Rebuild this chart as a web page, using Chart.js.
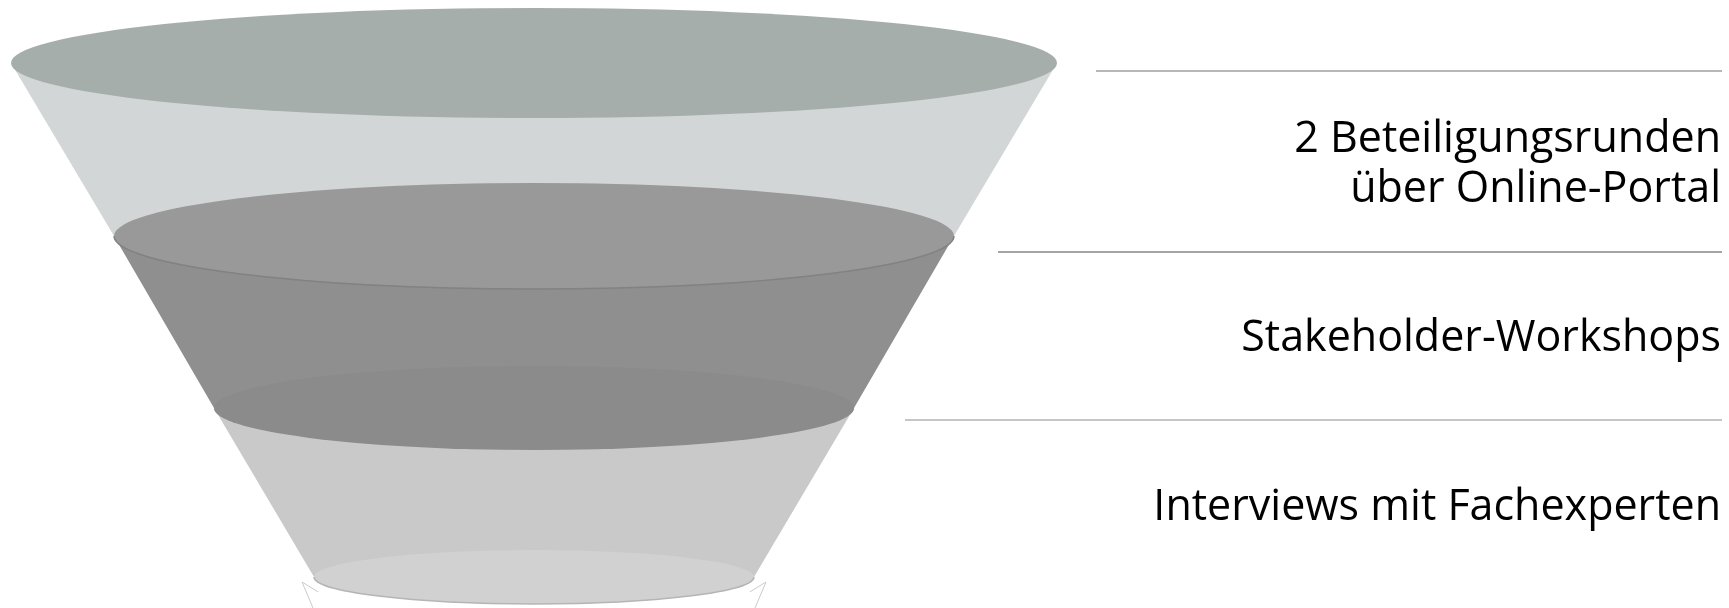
<!DOCTYPE html>
<html>
<head>
<meta charset="utf-8">
<script src="https://cdn.jsdelivr.net/npm/chart.js@4"></script>
<style>
    html, body { margin: 0; padding: 0; background: #ffffff; }
    #wrap { width: 1729px; height: 608px; }
</style>
</head>
<body>
<div id="wrap"><canvas id="funnel" width="1729" height="608"></canvas></div>
<script>
// funnel stages, top to bottom
const stageLabels = [
    ['2 Beteiligungsrunden', 'über Online-Portal'],
    ['Stakeholder-Workshops'],
    ['Interviews mit Fachexperten']
]
// rims of the cone (one more than stages)
const rimLevels = [63, 236, 408, 577]
const rimHalfWidths = [523, 420, 320, 220]
const rimDepths = [55, 53, 42, 27]
const funnelAxis = 534
// separator rules on the right
const separatorLevels = [71, 252, 420, 590]
const separatorStarts = [1096, 998, 905]
const separatorEnd = 1722

const rimColors = ['#a6aeac', '#989998', '#8a8b8a', '#d0d1d0']
const bodyColors = ['#d2d6d7', '#8e8f8e', '#c8c9c8']
const ruleColors = ['#b5b8b8', '#a3a4a4', '#c4c7c7']

const funnelPlugin = {
    id: 'funnel',
    afterDatasetsDraw(chart) {
        const ctx = chart.ctx
        const x = chart.scales.x
        const y = chart.scales.y
        const px = v => x.getPixelForValue(v)
        const py = v => y.getPixelForValue(v)
        const w = v => Math.abs(x.getPixelForValue(v) - x.getPixelForValue(0))
        const h = v => Math.abs(y.getPixelForValue(v) - y.getPixelForValue(0))
        const cx = px(funnelAxis)
        const last = rimLevels.length - 1

        ctx.save()
        // faint outline of the stand under the last rim
        const by = py(rimLevels[last]), br = w(rimHalfWidths[last]), bd = h(rimDepths[last])
        ctx.strokeStyle = '#c9cbcb'
        ctx.lineWidth = 1
        ;[-1, 1].forEach(s => {
            ctx.beginPath()
            ctx.moveTo(cx + s * (br - 4), by + bd * 0.55)
            ctx.lineTo(cx + s * (br + 12), by + 5)
            ctx.lineTo(cx + s * (br + 1), chart.height)
            ctx.stroke()
        })

        // bodies
        for (let i = 0; i < bodyColors.length; i++) {
            const y0 = py(rimLevels[i]), y1 = py(rimLevels[i + 1])
            const r0 = w(rimHalfWidths[i]), r1 = w(rimHalfWidths[i + 1])
            ctx.beginPath()
            ctx.moveTo(cx - r0, y0)
            ctx.lineTo(cx - r1, y1)
            ctx.ellipse(cx, y1, r1, h(rimDepths[i + 1]), 0, Math.PI, 0, true)
            ctx.lineTo(cx + r0, y0)
            ctx.closePath()
            ctx.fillStyle = bodyColors[i]
            ctx.fill()
        }
        // rims (top surfaces)
        for (let i = 0; i < rimLevels.length; i++) {
            ctx.beginPath()
            ctx.ellipse(cx, py(rimLevels[i]), w(rimHalfWidths[i]), h(rimDepths[i]), 0, 0, Math.PI * 2)
            ctx.fillStyle = rimColors[i]
            ctx.fill()
            if (i === 1 || i === last) {
                ctx.beginPath()
                ctx.ellipse(cx, py(rimLevels[i]), w(rimHalfWidths[i]), h(rimDepths[i]), 0, 0, Math.PI)
                ctx.strokeStyle = i === 1 ? '#818281' : '#b4b6b6'
                ctx.lineWidth = 1.5
                ctx.stroke()
            }
        }

        // separators and labels
        ctx.lineWidth = 2
        for (let i = 0; i < separatorStarts.length; i++) {
            ctx.beginPath()
            ctx.moveTo(px(separatorStarts[i]), py(separatorLevels[i]))
            ctx.lineTo(px(separatorEnd), py(separatorLevels[i]))
            ctx.strokeStyle = ruleColors[i]
            ctx.stroke()
        }
        ctx.fillStyle = '#000000'
        ctx.font = '43px "Open Sans", sans-serif'
        ctx.textAlign = 'right'
        ctx.textBaseline = 'alphabetic'
        const lineGap = 50
        stageLabels.forEach((lines, i) => {
            const mid = (py(separatorLevels[i]) + py(separatorLevels[i + 1])) / 2
            lines.forEach((t, j) => {
                ctx.fillText(t, px(separatorEnd) - 1, mid + 15 + (j - (lines.length - 1) / 2) * lineGap)
            })
        })
        ctx.restore()
    }
}

new Chart(document.getElementById('funnel'), {
    type: 'scatter',
    data: { datasets: [{ data: [] }] },
    options: {
        responsive: false,
        animation: false,
        layout: { padding: 0 },
        plugins: { legend: { display: false }, tooltip: { enabled: false } },
        scales: {
            x: { type: 'linear', min: 0, max: 1729, display: false },
            y: { type: 'linear', min: 0, max: 608, reverse: true, display: false }
        }
    },
    plugins: [funnelPlugin]
})
</script>
</body>
</html>
